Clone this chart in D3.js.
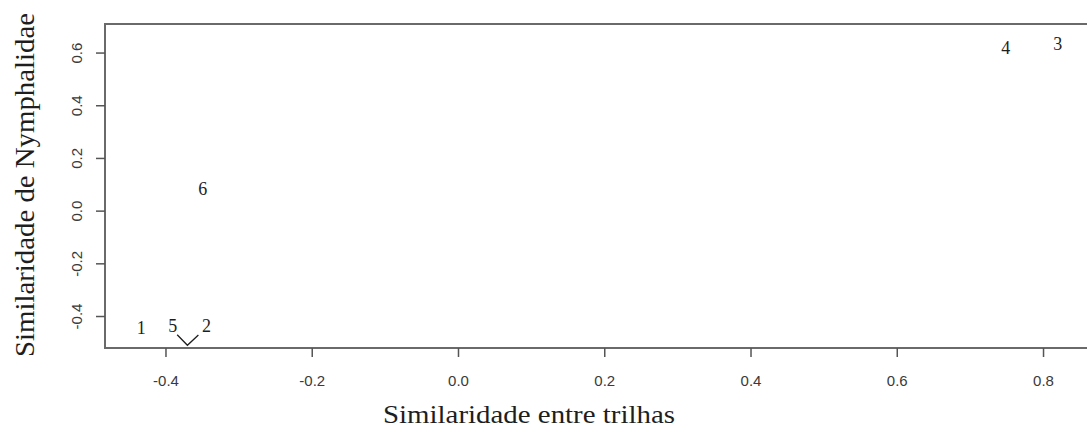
<!DOCTYPE html>
<html>
<head>
<meta charset="utf-8">
<script src="https://cdn.jsdelivr.net/npm/d3@7"></script>
<style>
  body { margin: 0; background: #fff; }
  svg { display: block; }
</style>
</head>
<body>
<svg id="chart"></svg>
<script>
// point labels and their coordinates
const labels = ["1", "5", "2", "6", "4", "3"];
const xValues = [-0.433, -0.390, -0.344, -0.349, 0.749, 0.820];
const yValues = [-0.445, -0.437, -0.437, 0.082, 0.617, 0.635];

// the little "v" mark under labels 5 and 2
const vMarkX = [-0.384, -0.370, -0.355];
const vMarkY = [-0.471, -0.511, -0.472];

const xTicks = [-0.4, -0.2, 0.0, 0.2, 0.4, 0.6, 0.8];
const yTicks = [-0.4, -0.2, 0.0, 0.2, 0.4, 0.6];

const W = 1087, H = 434;
// plot region (right edge falls just off the picture)
const plot = { left: 105, right: 1094, top: 24, bottom: 348 };

const fmt = d => d3.format(".1f")(d).replace("\u2212", "-");

const svg = d3.select("#chart")
  .attr("width", W)
  .attr("height", H);

const xScale = d3.scaleLinear()
  .domain([-0.4827, 0.8697])
  .range([plot.left, plot.right]);

const yScale = d3.scaleLinear()
  .domain([-0.5214, 0.7084])
  .range([plot.bottom, plot.top]);

// box
svg.append("rect")
  .attr("x", plot.left)
  .attr("y", plot.top)
  .attr("width", plot.right - plot.left)
  .attr("height", plot.bottom - plot.top)
  .attr("fill", "none")
  .attr("stroke", "#6a6a6a")
  .attr("stroke-width", 2);

// x axis
const xAxis = svg.append("g")
  .attr("transform", `translate(0,${plot.bottom})`)
  .call(d3.axisBottom(xScale).tickValues(xTicks).tickFormat(fmt).tickSize(9).tickPadding(18));
xAxis.select(".domain").remove();
xAxis.selectAll("line").attr("stroke", "#555").attr("stroke-width", 1.5);
xAxis.selectAll("text")
  .attr("font-family", "Liberation Sans, Arial, sans-serif")
  .attr("font-size", 15)
  .attr("fill", "#3a3a3a");

// y axis
const yAxis = svg.append("g")
  .attr("transform", `translate(${plot.left},0)`)
  .call(d3.axisLeft(yScale).tickValues(yTicks).tickFormat(fmt).tickSize(9).tickPadding(0));
yAxis.select(".domain").remove();
yAxis.selectAll("line").attr("stroke", "#555").attr("stroke-width", 1.5);
yAxis.selectAll("text")
  .attr("x", null)
  .attr("text-anchor", "middle")
  .attr("transform", "translate(-28,0) rotate(-90)")
  .attr("dy", "0.35em")
  .attr("font-family", "Liberation Sans, Arial, sans-serif")
  .attr("font-size", 15)
  .attr("fill", "#3a3a3a");

// point labels
svg.selectAll("text.pt")
  .data(labels)
  .enter()
  .append("text")
  .attr("class", "pt")
  .attr("x", (d, i) => xScale(xValues[i]))
  .attr("y", (d, i) => yScale(yValues[i]))
  .attr("dy", "0.35em")
  .attr("text-anchor", "middle")
  .attr("font-family", "Liberation Serif, Times New Roman, serif")
  .attr("font-size", 18)
  .attr("fill", "#1e1e1e")
  .text(d => d);

// v mark
const vLine = d3.line()
  .x((d, i) => xScale(vMarkX[i]))
  .y((d, i) => yScale(vMarkY[i]));
svg.append("path")
  .attr("d", vLine(vMarkX))
  .attr("fill", "none")
  .attr("stroke", "#1e1e1e")
  .attr("stroke-width", 1.3);

// axis titles
svg.append("text")
  .attr("x", 529)
  .attr("y", 423)
  .attr("text-anchor", "middle")
  .attr("font-family", "Liberation Serif, Times New Roman, serif")
  .attr("font-size", 26)
  .attr("textLength", 292)
  .attr("lengthAdjust", "spacingAndGlyphs")
  .attr("fill", "#1e1e1e")
  .text("Similaridade entre trilhas");

svg.append("text")
  .attr("transform", "translate(34,185) rotate(-90)")
  .attr("text-anchor", "middle")
  .attr("font-family", "Liberation Serif, Times New Roman, serif")
  .attr("font-size", 27)
  .attr("textLength", 344)
  .attr("lengthAdjust", "spacingAndGlyphs")
  .attr("fill", "#1e1e1e")
  .text("Similaridade de Nymphalidae");
</script>
</body>
</html>
